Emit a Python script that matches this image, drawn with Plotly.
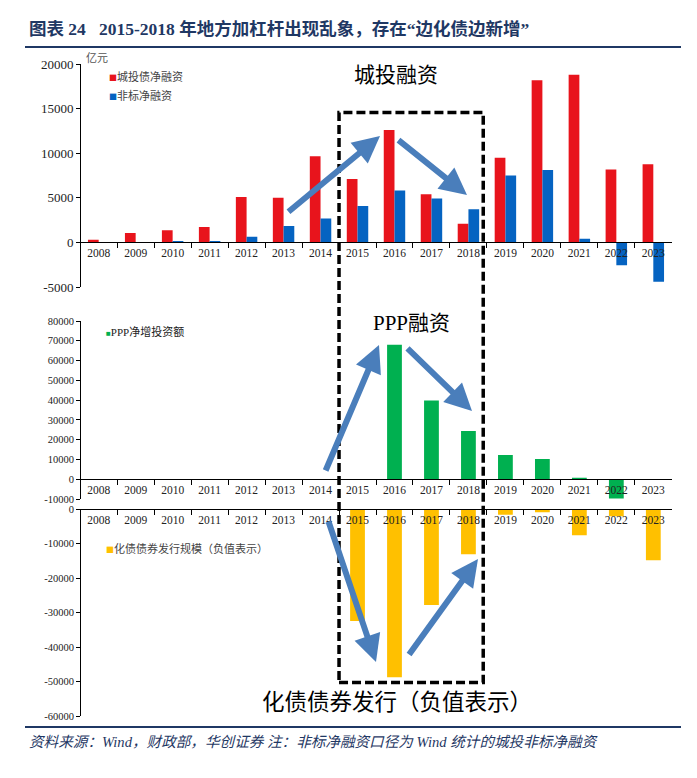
import plotly.graph_objects as go

# ---------------- data ----------------
years = [str(y) for y in range(2008, 2024)]
chengtou_net = [300, 1050, 1350, 1720, 5100, 5000, 9670, 7100, 12600, 5400, 2100, 9500, 18170, 18800, 8170, 8770]
feibiao_net = [0, 0, 150, 150, 630, 1830, 2670, 4080, 5810, 4910, 3710, 7500, 8130, 420, -2550, -4400]
ppp_net = [0, 0, 0, 0, 0, 0, 0, 0, 68000, 39800, 24400, 12300, 10200, 800, -9800, 0]
huazhai_bond = [0, 0, 0, 0, 0, 0, 0, -32500, -48800, -27800, -13100, -1650, -960, -7640, -2100, -14870]

top_ticks = [-5000, 0, 5000, 10000, 15000, 20000]
mid_ticks = [-10000, 0, 10000, 20000, 30000, 40000, 50000, 60000, 70000, 80000]
bot_ticks = [-60000, -50000, -40000, -30000, -20000, -10000, 0]

# page body has an 8px margin; figure sized to fit the window
OFF = 8
W, H = 697 - OFF, 778 - OFF
def fx(px):
    return (px - OFF) / W
def fy(py):
    return 1 - (py - OFF) / H

RED = "#E8141C"
BLUE = "#0563C1"
GREEN = "#00B050"
YELLOW = "#FFC000"
ARROW = "#4A7EBB"
NAVY = "#1F3864"
SERIF = "Liberation Serif, Noto Sans CJK SC"
CJK = "Noto Sans CJK SC"

fig = go.Figure()
fig.add_trace(go.Bar(x=years, y=chengtou_net, name="城投债净融资", marker_color=RED,
                     width=0.29, offset=-0.29, xaxis="x", yaxis="y", showlegend=False))
fig.add_trace(go.Bar(x=years, y=feibiao_net, name="非标净融资", marker_color=BLUE,
                     width=0.29, offset=0.0, xaxis="x", yaxis="y", showlegend=False))
fig.add_trace(go.Bar(x=years, y=ppp_net, name="PPP净增投资额", marker_color=GREEN,
                     width=0.4, offset=-0.2, xaxis="x2", yaxis="y2", showlegend=False))
fig.add_trace(go.Bar(x=years, y=huazhai_bond, name="化债债券发行规模（负值表示）", marker_color=YELLOW,
                     width=0.4, offset=-0.2, xaxis="x3", yaxis="y3", showlegend=False))

xdom = [fx(80.2), fx(671.8)]

def xax(pos_px, ticklen=5):
    return dict(domain=xdom, anchor="free", position=fy(pos_px), type="category",
                range=[-0.5, 15.5], showline=True, linecolor="black", linewidth=1,
                ticks="outside", tickson="boundaries", ticklen=ticklen, tickcolor="black",
                tickfont=dict(family=SERIF, size=11.5, color="#222"), showgrid=False,
                zeroline=False, automargin=False, fixedrange=True)

def yax(top_px, bot_px, rng, tickvals, size):
    return dict(domain=[fy(bot_px), fy(top_px)], anchor="free", position=fx(80.2),
                range=rng, tickvals=tickvals, ticktext=[str(v) for v in tickvals],
                showline=True, linecolor="black", linewidth=1, ticks="outside", ticklen=4,
                tickcolor="black", tickfont=dict(family=SERIF, size=size, color="#222"),
                showgrid=False, zeroline=False, automargin=False)

fig.update_layout(
    template="none",
    width=W, height=H,
    margin=dict(l=0, r=0, t=0, b=0),
    paper_bgcolor="white", plot_bgcolor="rgba(0,0,0,0)",
    barmode="overlay",
    showlegend=False,
    xaxis=xax(242.3),
    yaxis=yax(64, 287, [-5000, 20000], top_ticks, 13),
    xaxis2=xax(479),
    yaxis2=yax(321, 499, [-10000, 80000], mid_ticks, 10.5),
    xaxis3=xax(509),
    yaxis3=yax(509, 716, [-60000, 0], bot_ticks, 10.5),
)

shapes = [
    # dashed highlight box 2015-2018
    dict(type="rect", xref="x", yref="paper", x0=6.5, x1=10.4, y0=fy(682.5), y1=fy(112.5),
         line=dict(color="black", width=3.5, dash="9px,4px"), fillcolor="rgba(0,0,0,0)"),
    # title underline and footer line
    dict(type="line", xref="paper", yref="paper", x0=fx(25), x1=fx(681), y0=fy(47), y1=fy(47),
         line=dict(color=NAVY, width=2)),
    dict(type="line", xref="paper", yref="paper", x0=fx(25), x1=fx(681), y0=fy(727), y1=fy(727),
         line=dict(color=NAVY, width=2)),
]
fig.update_layout(shapes=shapes)

def legend_item(color, label, x_px, y_px, family=CJK, tcolor="#444"):
    return dict(text=f'<span style="font-size:8px;color:{color}">■</span>{label}',
                x=fx(x_px), y=fy(y_px), xref="paper", yref="paper", xanchor="left",
                yanchor="middle", showarrow=False, font=dict(family=family, size=11, color=tcolor))

annotations = [
    dict(text="<b>图表 24&nbsp;&nbsp;&nbsp;2015-2018 年地方加杠杆出现乱象，存在“边化债边新增”</b>",
         x=fx(27), y=fy(29), xref="paper", yref="paper", xanchor="left", yanchor="middle",
         showarrow=False, font=dict(family=SERIF, size=17.5, color=NAVY)),
    dict(text="<i>资料来源：Wind，财政部，华创证券 注：非标净融资口径为 Wind 统计的城投非标净融资</i>",
         x=fx(27), y=fy(742), xref="paper", yref="paper", xanchor="left", yanchor="middle",
         showarrow=False, font=dict(family=SERIF, size=14.6, color=NAVY)),
    dict(text="亿元", x=fx(84), y=fy(57), xref="paper", yref="paper", xanchor="left", yanchor="middle",
         showarrow=False, font=dict(family=CJK, size=11, color="#555")),
    legend_item(RED, "城投债净融资", 107, 75.7),
    legend_item(BLUE, "非标净融资", 107, 95),
    legend_item(GREEN, "PPP净增投资额", 104, 331.7, family=SERIF, tcolor="#222"),
    legend_item(YELLOW, "化债债券发行规模（负值表示）", 104, 548.3),
    dict(text="城投融资", x=fx(396), y=fy(73), xref="paper", yref="paper", xanchor="center", yanchor="middle",
         showarrow=False, font=dict(family=CJK, size=21, color="black")),
    dict(text="PPP融资", x=fx(412), y=fy(323), xref="paper", yref="paper", xanchor="center", yanchor="middle",
         showarrow=False, font=dict(family=SERIF, size=21, color="black")),
    dict(text="化债债券发行（负值表示）", x=fx(397), y=fy(700), xref="paper", yref="paper",
         xanchor="center", yanchor="middle",
         showarrow=False, font=dict(family=CJK, size=22.5, color="black")),
]

arrows = [
    ((287, 213), (380, 136)),
    ((397, 139), (467, 195)),
    ((325, 472), (379, 345)),
    ((406, 347), (472, 411)),
    ((328, 520), (376, 662)),
    ((408, 656), (478, 559)),
]
for (tx, ty), (hx, hy) in arrows:
    annotations.append(dict(text="", x=fx(hx), y=fy(hy), xref="paper", yref="paper",
                            ax=tx - hx, ay=ty - hy, axref="pixel", ayref="pixel",
                            showarrow=True, arrowhead=2, arrowsize=0.9, arrowwidth=6,
                            arrowcolor=ARROW, standoff=0, startstandoff=0))
fig.update_layout(annotations=annotations)

fig.write_html("out.html")
